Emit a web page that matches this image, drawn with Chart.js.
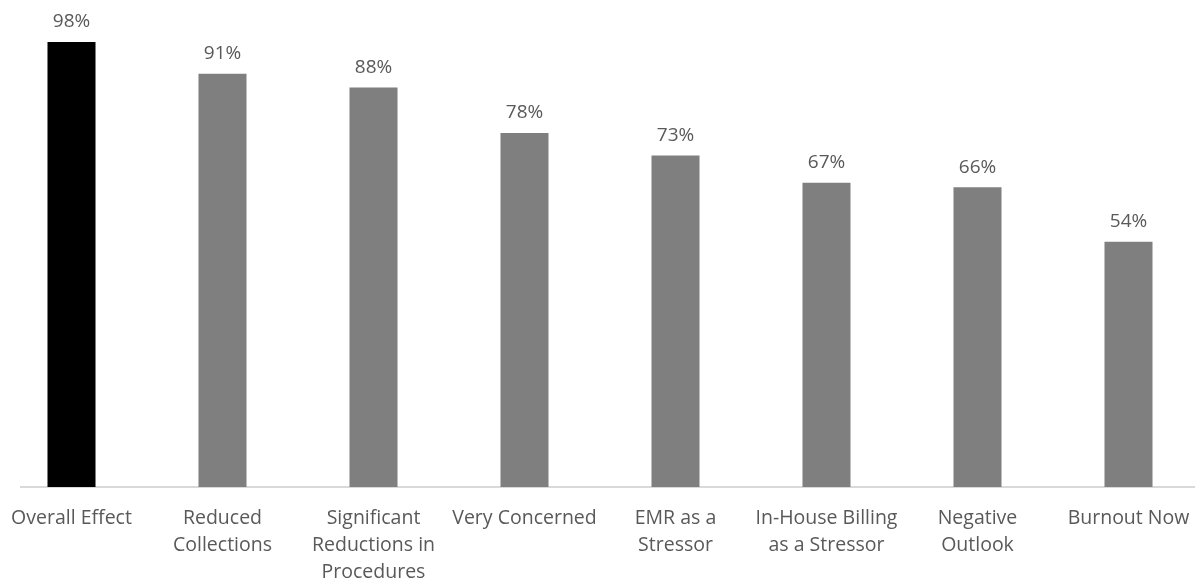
<!DOCTYPE html>
<html>
<head>
<meta charset="utf-8">
<title>Practice impact</title>
<script src="https://cdn.jsdelivr.net/npm/chart.js@4/dist/chart.umd.min.js"></script>
<style>
  html, body { margin: 0; padding: 0; background: #fff; overflow: hidden; }
  #wrap { position: absolute; left: -4px; top: 0; width: 1208px; height: 581px; }
</style>
</head>
<body>
<div id="wrap"><canvas id="chart" width="1208" height="581"></canvas></div>
<script>
// categories (wrapped the way they appear under the axis)
const categories = [
    ['Overall Effect'],
    ['Reduced', 'Collections'],
    ['Significant', 'Reductions in', 'Procedures'],
    ['Very Concerned'],
    ['EMR as a', 'Stressor'],
    ['In-House Billing', 'as a Stressor'],
    ['Negative', 'Outlook'],
    ['Burnout Now']
];
const percentValues = [98, 91, 88, 78, 73, 67, 66, 54];
const barColors = ['#000000', '#7f7f7f', '#7f7f7f', '#7f7f7f', '#7f7f7f', '#7f7f7f', '#7f7f7f', '#7f7f7f'];

const textColor = '#595959';
const fontFamily = '"Open Sans", "Noto Sans", sans-serif';

// percent labels above each bar
const valueLabels = {
    id: 'valueLabels',
    afterDatasetsDraw(chart) {
        const ctx = chart.ctx;
        const meta = chart.getDatasetMeta(0);
        ctx.save();
        ctx.fillStyle = textColor;
        ctx.font = '19px ' + fontFamily;
        ctx.textAlign = 'center';
        ctx.textBaseline = 'middle';
        meta.data.forEach((bar, i) => {
            ctx.fillText(percentValues[i] + '%', bar.x, bar.y - 20);
        });
        ctx.restore();
    }
};

// light baseline under the bars
const baseLine = {
    id: 'baseLine',
    beforeDatasetsDraw(chart) {
        const ctx = chart.ctx;
        const y = chart.scales.y.getPixelForValue(0);
        ctx.save();
        ctx.strokeStyle = '#d9d9d9';
        ctx.lineWidth = 2;
        ctx.beginPath();
        ctx.moveTo(chart.chartArea.left + 24, y);
        ctx.lineTo(chart.chartArea.right, y);
        ctx.stroke();
        ctx.restore();
    }
};

new Chart(document.getElementById('chart'), {
    type: 'bar',
    data: {
        labels: categories,
        datasets: [{
            data: percentValues,
            backgroundColor: barColors,
            borderWidth: 0,
            barPercentage: 1,
            categoryPercentage: 0.318
        }]
    },
    options: {
        responsive: false,
        devicePixelRatio: 1,
        animation: false,
        layout: { padding: { top: 33, left: 0, right: 0, bottom: 0 } },
        plugins: {
            legend: { display: false },
            tooltip: { enabled: false }
        },
        scales: {
            x: {
                grid: { display: false, drawTicks: false },
                border: { display: false },
                ticks: {
                    color: textColor,
                    padding: 18,
                    maxRotation: 0,
                    autoSkip: false,
                    font: { family: fontFamily, size: 19.5, lineHeight: 1.385 }
                },
                afterFit(scale) {
                    scale.height = 94;
                    scale.paddingLeft = 0;
                    scale.paddingRight = 0;
                }
            },
            y: {
                display: false,
                min: 0,
                max: 100
            }
        }
    },
    plugins: [baseLine, valueLabels]
});
</script>
</body>
</html>
